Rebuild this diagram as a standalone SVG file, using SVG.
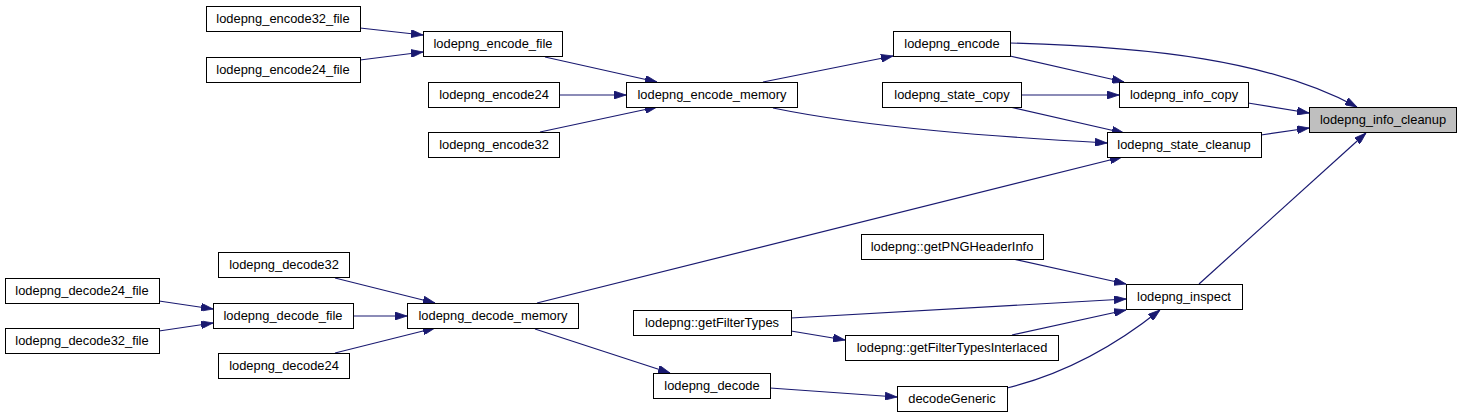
<svg xmlns="http://www.w3.org/2000/svg" width="1461" height="417" viewBox="0 0 1461 417">
<style>
.n rect{fill:#fff;stroke:#000;stroke-width:1}
.n.hl rect{fill:#bfbfbf}
.n text{font-family:"Liberation Sans",Arial,sans-serif;font-size:12.9px;fill:#000;text-anchor:middle}
.e path{fill:none;stroke:#191970;stroke-width:1.2}
</style>
<defs>
<marker id="ah" viewBox="0 0 12 8" refX="12" refY="4" markerWidth="12" markerHeight="8" markerUnits="userSpaceOnUse" orient="auto">
<path d="M0,0 L12,4 L0,8 z" fill="#191970" stroke="#191970" stroke-width="0.8"/>
</marker>
</defs>
<rect width="1461" height="417" fill="#fff"/>
<g id="edges" class="e">
<path marker-end="url(#ah)" d="M1010,43 C1150,47 1270,60 1357,107"/>
<path marker-end="url(#ah)" d="M1248,103 L1309,113"/>
<path marker-end="url(#ah)" d="M1261,135 L1309,128"/>
<path marker-end="url(#ah)" d="M1199,284 L1366,133"/>
<path marker-end="url(#ah)" d="M1010,56 L1124,82"/>
<path marker-end="url(#ah)" d="M1021,95 L1119,95"/>
<path marker-end="url(#ah)" d="M1010,107 L1124,133"/>
<path marker-end="url(#ah)" d="M773,108 C870,128 1000,137 1107,143"/>
<path marker-end="url(#ah)" d="M537,303 L1122,157"/>
<path marker-end="url(#ah)" d="M763,82 L893,56"/>
<path marker-end="url(#ah)" d="M545,57 L657,82"/>
<path marker-end="url(#ah)" d="M559,95 L626,95"/>
<path marker-end="url(#ah)" d="M540,132 L657,107"/>
<path marker-end="url(#ah)" d="M360,28 L423,35"/>
<path marker-end="url(#ah)" d="M360,60 L423,52"/>
<path marker-end="url(#ah)" d="M335,278 L435,303"/>
<path marker-end="url(#ah)" d="M353,316 L407,316"/>
<path marker-end="url(#ah)" d="M335,353 L435,328"/>
<path marker-end="url(#ah)" d="M159,301 L213,309"/>
<path marker-end="url(#ah)" d="M159,331 L213,323"/>
<path marker-end="url(#ah)" d="M535,329 L670,373"/>
<path marker-end="url(#ah)" d="M770,388 L897,397"/>
<path marker-end="url(#ah)" d="M1007,388 C1060,375 1110,350 1160,310"/>
<path marker-end="url(#ah)" d="M791,318 L1126,299"/>
<path marker-end="url(#ah)" d="M791,331 L845,340"/>
<path marker-end="url(#ah)" d="M1012,335 L1126,310"/>
<path marker-end="url(#ah)" d="M1013,259 L1126,284"/>
</g>
<g id="lodepng_info_cleanup" class="n hl"><rect x="1309.5" y="107.5" width="147" height="25"/><text x="1383" y="124">lodepng_info_cleanup</text></g>
<g id="lodepng_info_copy" class="n"><rect x="1119.5" y="82.5" width="129" height="25"/><text x="1184" y="99">lodepng_info_copy</text></g>
<g id="lodepng_state_cleanup" class="n"><rect x="1107.5" y="132.5" width="154" height="25"/><text x="1184" y="149">lodepng_state_cleanup</text></g>
<g id="lodepng_encode" class="n"><rect x="893.5" y="31.5" width="117" height="25"/><text x="952" y="48">lodepng_encode</text></g>
<g id="lodepng_state_copy" class="n"><rect x="882.5" y="82.5" width="139" height="25"/><text x="952" y="99">lodepng_state_copy</text></g>
<g id="lodepng_encode_memory" class="n"><rect x="626.5" y="82.5" width="171" height="25"/><text x="712" y="99">lodepng_encode_memory</text></g>
<g id="lodepng_encode_file" class="n"><rect x="423.5" y="31.5" width="139" height="25"/><text x="493" y="48">lodepng_encode_file</text></g>
<g id="lodepng_encode24" class="n"><rect x="428.5" y="82.5" width="131" height="25"/><text x="494" y="99">lodepng_encode24</text></g>
<g id="lodepng_encode32" class="n"><rect x="428.5" y="132.5" width="131" height="25"/><text x="494" y="149">lodepng_encode32</text></g>
<g id="lodepng_encode32_file" class="n"><rect x="206.5" y="6.5" width="154" height="25"/><text x="283" y="23">lodepng_encode32_file</text></g>
<g id="lodepng_encode24_file" class="n"><rect x="206.5" y="57.5" width="154" height="25"/><text x="283" y="74">lodepng_encode24_file</text></g>
<g id="lodepng_decode_memory" class="n"><rect x="407.5" y="303.5" width="171" height="25"/><text x="493" y="320">lodepng_decode_memory</text></g>
<g id="lodepng_decode32" class="n"><rect x="218.5" y="252.5" width="131" height="25"/><text x="284" y="269">lodepng_decode32</text></g>
<g id="lodepng_decode_file" class="n"><rect x="213.5" y="303.5" width="140" height="25"/><text x="283" y="320">lodepng_decode_file</text></g>
<g id="lodepng_decode24" class="n"><rect x="218.5" y="353.5" width="131" height="25"/><text x="284" y="370">lodepng_decode24</text></g>
<g id="lodepng_decode24_file" class="n"><rect x="5.5" y="278.5" width="154" height="25"/><text x="82" y="295">lodepng_decode24_file</text></g>
<g id="lodepng_decode32_file" class="n"><rect x="5.5" y="328.5" width="154" height="25"/><text x="82" y="345">lodepng_decode32_file</text></g>
<g id="lodepng_getFilterTypes" class="n"><rect x="633.5" y="310.5" width="158" height="25"/><text x="712" y="327">lodepng::getFilterTypes</text></g>
<g id="lodepng_getFilterTypesInterlaced" class="n"><rect x="845.5" y="335.5" width="213" height="25"/><text x="952" y="352">lodepng::getFilterTypesInterlaced</text></g>
<g id="lodepng_decode" class="n"><rect x="653.5" y="373.5" width="117" height="25"/><text x="712" y="390">lodepng_decode</text></g>
<g id="decodeGeneric" class="n"><rect x="897.5" y="386.5" width="110" height="25"/><text x="952" y="403">decodeGeneric</text></g>
<g id="lodepng_getPNGHeaderInfo" class="n"><rect x="861.5" y="234.5" width="182" height="25"/><text x="952" y="251">lodepng::getPNGHeaderInfo</text></g>
<g id="lodepng_inspect" class="n"><rect x="1126.5" y="284.5" width="116" height="25"/><text x="1184" y="301">lodepng_inspect</text></g>
</svg>
